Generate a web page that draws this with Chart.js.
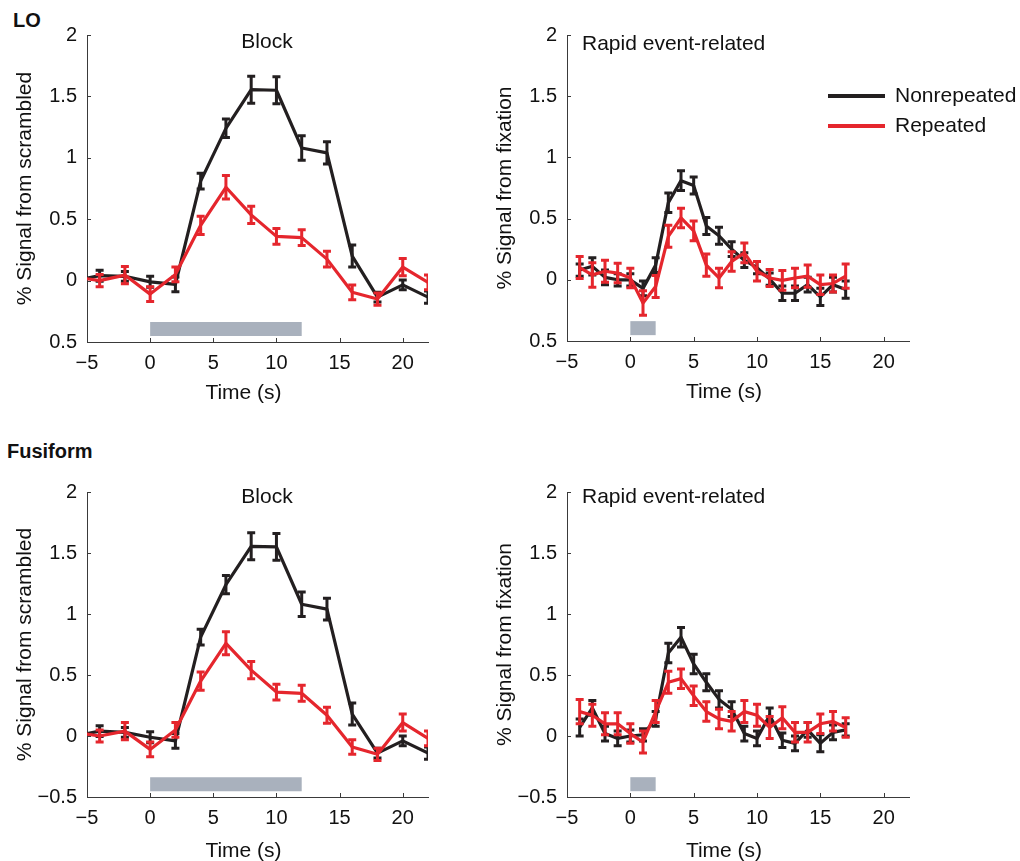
<!DOCTYPE html>
<html><head><meta charset="utf-8">
<script src="https://cdn.jsdelivr.net/npm/chart.js@4.4.1/dist/chart.umd.min.js"></script>
<style>
html,body{margin:0;padding:0;background:#fff;width:1020px;height:861px;overflow:hidden;}
body{position:relative;}
canvas{position:absolute;}
.lab{position:absolute;font:bold 20px "Liberation Sans",Arial,sans-serif;color:#111;line-height:24px;white-space:nowrap;}
</style></head><body>
<div class="lab" style="left:13px;top:8px">LO</div>
<div class="lab" style="left:7px;top:439px">Fusiform</div>
<canvas id="c1" width="480" height="420" style="left:0px;top:0px"></canvas>
<canvas id="c2" width="540" height="420" style="left:480px;top:0px"></canvas>
<canvas id="c3" width="480" height="414" style="left:0px;top:450px"></canvas>
<canvas id="c4" width="540" height="414" style="left:480px;top:450px"></canvas>
<script>
// ---------- data ----------
const blockTime = [-6,-4,-2,0,2,4,6,8,10,12,14,16,18,20,22];
const rapidTime = [-4,-3,-2,-1,0,1,2,3,4,5,6,7,8,9,10,11,12,13,14,15,16,17];

const loBlockNonrep    = [0.00,0.04,0.035,-0.01,-0.03,0.81,1.24,1.555,1.55,1.08,1.04,0.20,-0.135,-0.035,-0.135];
const loBlockNonrepErr = [0.04,0.045,0.04,0.045,0.06,0.065,0.075,0.11,0.11,0.10,0.09,0.09,0.04,0.04,0.05];
const loBlockRep       = [0.03,0.00,0.045,-0.11,0.05,0.45,0.76,0.535,0.36,0.35,0.175,-0.095,-0.15,0.11,-0.015];
const loBlockRepErr    = [0.05,0.05,0.07,0.06,0.06,0.075,0.095,0.07,0.065,0.065,0.065,0.06,0.05,0.07,0.06];

const loRapidNonrep    = [0.08,0.11,0.02,0.00,0.00,-0.07,0.12,0.63,0.81,0.77,0.44,0.36,0.25,0.16,0.10,0.005,-0.11,-0.11,-0.04,-0.14,-0.04,-0.08];
const loRapidNonrepErr = [0.05,0.07,0.06,0.05,0.05,0.06,0.06,0.08,0.08,0.07,0.07,0.07,0.06,0.06,0.05,0.05,0.06,0.06,0.06,0.07,0.06,0.07];
const loRapidRep       = [0.10,0.04,0.07,0.055,0.015,-0.19,-0.055,0.355,0.505,0.40,0.12,0.015,0.15,0.22,0.07,0.015,-0.005,0.015,0.03,-0.04,-0.03,0.03];
const loRapidRepErr    = [0.09,0.10,0.09,0.08,0.08,0.10,0.09,0.09,0.08,0.08,0.09,0.08,0.08,0.08,0.08,0.07,0.08,0.08,0.09,0.08,0.07,0.10];

const fuBlockNonrep    = [0.00,0.04,0.03,-0.01,-0.04,0.81,1.24,1.555,1.55,1.08,1.04,0.18,-0.14,-0.04,-0.14];
const fuBlockNonrepErr = [0.04,0.045,0.04,0.045,0.06,0.065,0.075,0.11,0.11,0.10,0.09,0.09,0.04,0.04,0.05];
const fuBlockRep       = [0.03,0.00,0.04,-0.11,0.05,0.45,0.76,0.54,0.36,0.35,0.17,-0.09,-0.15,0.11,-0.02];
const fuBlockRepErr    = [0.05,0.05,0.07,0.06,0.06,0.075,0.095,0.07,0.065,0.065,0.065,0.06,0.05,0.07,0.06];

const fuRapidNonrep    = [0.07,0.23,0.02,-0.02,0.00,0.01,0.14,0.68,0.81,0.59,0.44,0.30,0.22,0.02,-0.02,0.17,-0.035,-0.06,0.05,-0.06,0.03,0.05];
const fuRapidNonrepErr = [0.07,0.06,0.06,0.06,0.05,0.05,0.06,0.08,0.08,0.08,0.07,0.07,0.06,0.06,0.06,0.06,0.06,0.06,0.06,0.07,0.06,0.05];
const fuRapidRep       = [0.20,0.17,0.10,0.10,0.02,-0.05,0.20,0.44,0.47,0.33,0.20,0.14,0.12,0.20,0.17,0.07,0.15,0.03,0.03,0.10,0.12,0.07];
const fuRapidRepErr    = [0.10,0.09,0.09,0.09,0.08,0.09,0.09,0.09,0.08,0.08,0.08,0.08,0.08,0.09,0.09,0.09,0.09,0.08,0.08,0.08,0.08,0.08];

const stimBlock = [0, 12];
const stimRapid = [0, 2];
const stimLevel = -0.395;

const xTicks = [-5,0,5,10,15,20];
const xTickLabels = ['\u22125','0','5','10','15','20'];
const yTicks = [-0.5,0,0.5,1,1.5,2];
const yTickLabelsLO = ['0.5','0','0.5','1','1.5','2'];
const yTickLabelsFu = ['\u22120.5','0','0.5','1','1.5','2'];

const seriesNames = ['Nonrepeated','Repeated'];
const xTitle = 'Time (s)';

// ---------- style ----------
const FONT = '"Liberation Sans", Arial, sans-serif';
const BLACK = '#231f20';
const RED = '#e5262d';
const GRAY = '#a9b1bd';
const AXIS = '#3a3a3a';
const TEXT = '#111111';

const errorBars = {
  id: 'errorBars',
  afterDatasetDraw(chart, args) {
    const ds = chart.data.datasets[args.index];
    if (!ds.errors) return;
    const xs = chart.scales.x, ys = chart.scales.y, ca = chart.chartArea, c = chart.ctx;
    c.save();
    c.beginPath(); c.rect(ca.left, ca.top - 20, ca.right - ca.left, ca.bottom - ca.top + 40); c.clip();
    c.strokeStyle = ds.borderColor; c.lineWidth = 3; c.lineCap = 'butt';
    ds.data.forEach((p, i) => {
      if (p.x < xs.min || p.x > xs.max) return;
      const e = ds.errors[i];
      const px = xs.getPixelForValue(p.x);
      const y1 = ys.getPixelForValue(p.y + e), y2 = ys.getPixelForValue(p.y - e);
      c.beginPath();
      c.moveTo(px, y1 - 1); c.lineTo(px, y2 + 1);
      c.moveTo(px - 4, y1); c.lineTo(px + 4, y1);
      c.moveTo(px - 4, y2); c.lineTo(px + 4, y2);
      c.stroke();
    });
    c.restore();
  }
};

const extras = {
  id: 'extras',
  afterDraw(chart, args, opts) {
    const c = chart.ctx, ca = chart.chartArea, xs = chart.scales.x, ys = chart.scales.y;
    c.save();
    // inward ticks
    c.strokeStyle = AXIS; c.lineWidth = 1;
    c.beginPath();
    ys.ticks.forEach(t => { const py = Math.round(ys.getPixelForValue(t.value)) + 0.5; c.moveTo(ca.left, py); c.lineTo(ca.left + 4, py); });
    xs.ticks.forEach(t => { const px = Math.round(xs.getPixelForValue(t.value)) + 0.5; c.moveTo(px, ca.bottom); c.lineTo(px, ca.bottom - 4); });
    c.stroke();
    // x axis title
    c.fillStyle = TEXT; c.font = '21px ' + FONT; c.textBaseline = 'middle'; c.textAlign = 'center';
    c.fillText(xTitle, (ca.left + ca.right) / 2 - 14, ca.bottom + opts.xTitleOffset);
    // panel title
    if (opts.title) {
      c.textAlign = opts.title.align;
      c.fillText(opts.title.text, opts.title.x, opts.title.y);
    }
    // legend
    if (opts.legend) {
      const L = opts.legend;
      chart.data.datasets.filter(d => !d.isStim).forEach((d, i) => {
        const y = L.y + i * L.gap;
        c.strokeStyle = d.borderColor; c.lineWidth = 4; c.lineCap = 'butt';
        c.beginPath(); c.moveTo(L.x, y); c.lineTo(L.x + L.len, y); c.stroke();
        c.fillStyle = TEXT; c.font = '21px ' + FONT; c.textAlign = 'left'; c.textBaseline = 'middle';
        c.fillText(d.label, L.x + L.len + 10, y);
      });
    }
    c.restore();
  }
};

function panel(id, cfg) {
  const pts = (t, v) => t.map((x, i) => ({x: x, y: v[i]}));
  return new Chart(document.getElementById(id), {
    type: 'line',
    data: {
      datasets: [
        {label: 'stim', isStim: true, data: [{x: cfg.stim[0], y: stimLevel}, {x: cfg.stim[1], y: stimLevel}],
         borderColor: GRAY, borderWidth: 14, borderCapStyle: 'butt', pointRadius: 0, order: 3},
        {label: seriesNames[0], data: pts(cfg.t, cfg.nonrep), errors: cfg.nonrepErr, borderColor: BLACK,
         borderWidth: 3.2, pointRadius: 0, tension: 0, clip: 0, order: 2, borderJoinStyle: 'round'},
        {label: seriesNames[1], data: pts(cfg.t, cfg.rep), errors: cfg.repErr, borderColor: RED,
         borderWidth: 3.2, pointRadius: 0, tension: 0, clip: 0, order: 1, borderJoinStyle: 'round'}
      ]
    },
    options: {
      responsive: false, animation: false, events: [],
      layout: {padding: cfg.pad},
      plugins: {legend: {display: false}, tooltip: {enabled: false},
        extras: {title: cfg.title, legend: cfg.legend, xTitleOffset: cfg.xTitleOffset}},
      scales: {
        x: {type: 'linear', min: -5, max: 22,
          afterBuildTicks: s => { s.ticks = xTicks.map(v => ({value: v})); },
          afterFit: s => { s.height = cfg.xH; },
          grid: {display: true, drawOnChartArea: false, drawTicks: false},
          border: {display: true, color: AXIS, width: 1},
          ticks: {padding: 9, color: TEXT, font: {family: FONT, size: 20}, maxRotation: 0, autoSkip: false,
            callback: v => xTickLabels[xTicks.indexOf(v)]},
          title: {display: false}
        },
        y: {type: 'linear', min: -0.5, max: 2,
          afterBuildTicks: s => { s.ticks = yTicks.map(v => ({value: v})); },
          afterFit: s => { s.width = 87; },
          grid: {display: true, drawOnChartArea: false, drawTicks: false},
          border: {display: true, color: AXIS, width: 1},
          ticks: {padding: 10, color: TEXT, font: {family: FONT, size: 20},
            callback: v => cfg.yLabels[yTicks.indexOf(v)]},
          title: {display: true, text: cfg.yTitle, color: TEXT, font: {family: FONT, size: 21}, padding: {top: 13, bottom: 0}}
        }
      }
    },
    plugins: [errorBars, extras]
  });
}

panel('c1', {t: blockTime, nonrep: loBlockNonrep, nonrepErr: loBlockNonrepErr, rep: loBlockRep, repErr: loBlockRepErr,
  stim: stimBlock, yLabels: yTickLabelsLO, yTitle: '% Signal from scrambled',
  pad: {left: 0, top: 35, right: 52, bottom: 15}, xH: 63, xTitleOffset: 51,
  title: {text: 'Block', x: 267, y: 42, align: 'center'}});
panel('c2', {t: rapidTime, nonrep: loRapidNonrep, nonrepErr: loRapidNonrepErr, rep: loRapidRep, repErr: loRapidRepErr,
  stim: stimRapid, yLabels: yTickLabelsLO, yTitle: '% Signal from fixation',
  pad: {left: 0, top: 35, right: 111, bottom: 16}, xH: 63, xTitleOffset: 51,
  title: {text: 'Rapid event-related', x: 102, y: 44, align: 'left'},
  legend: {x: 348, y: 96, gap: 30, len: 57}});
panel('c3', {t: blockTime, nonrep: fuBlockNonrep, nonrepErr: fuBlockNonrepErr, rep: fuBlockRep, repErr: fuBlockRepErr,
  stim: stimBlock, yLabels: yTickLabelsFu, yTitle: '% Signal from scrambled',
  pad: {left: 0, top: 42, right: 52, bottom: 0}, xH: 67, xTitleOffset: 54,
  title: {text: 'Block', x: 267, y: 47, align: 'center'}});
panel('c4', {t: rapidTime, nonrep: fuRapidNonrep, nonrepErr: fuRapidNonrepErr, rep: fuRapidRep, repErr: fuRapidRepErr,
  stim: stimRapid, yLabels: yTickLabelsFu, yTitle: '% Signal from fixation',
  pad: {left: 0, top: 42, right: 111, bottom: 0}, xH: 67, xTitleOffset: 54,
  title: {text: 'Rapid event-related', x: 102, y: 47, align: 'left'}});
</script>
</body></html>
